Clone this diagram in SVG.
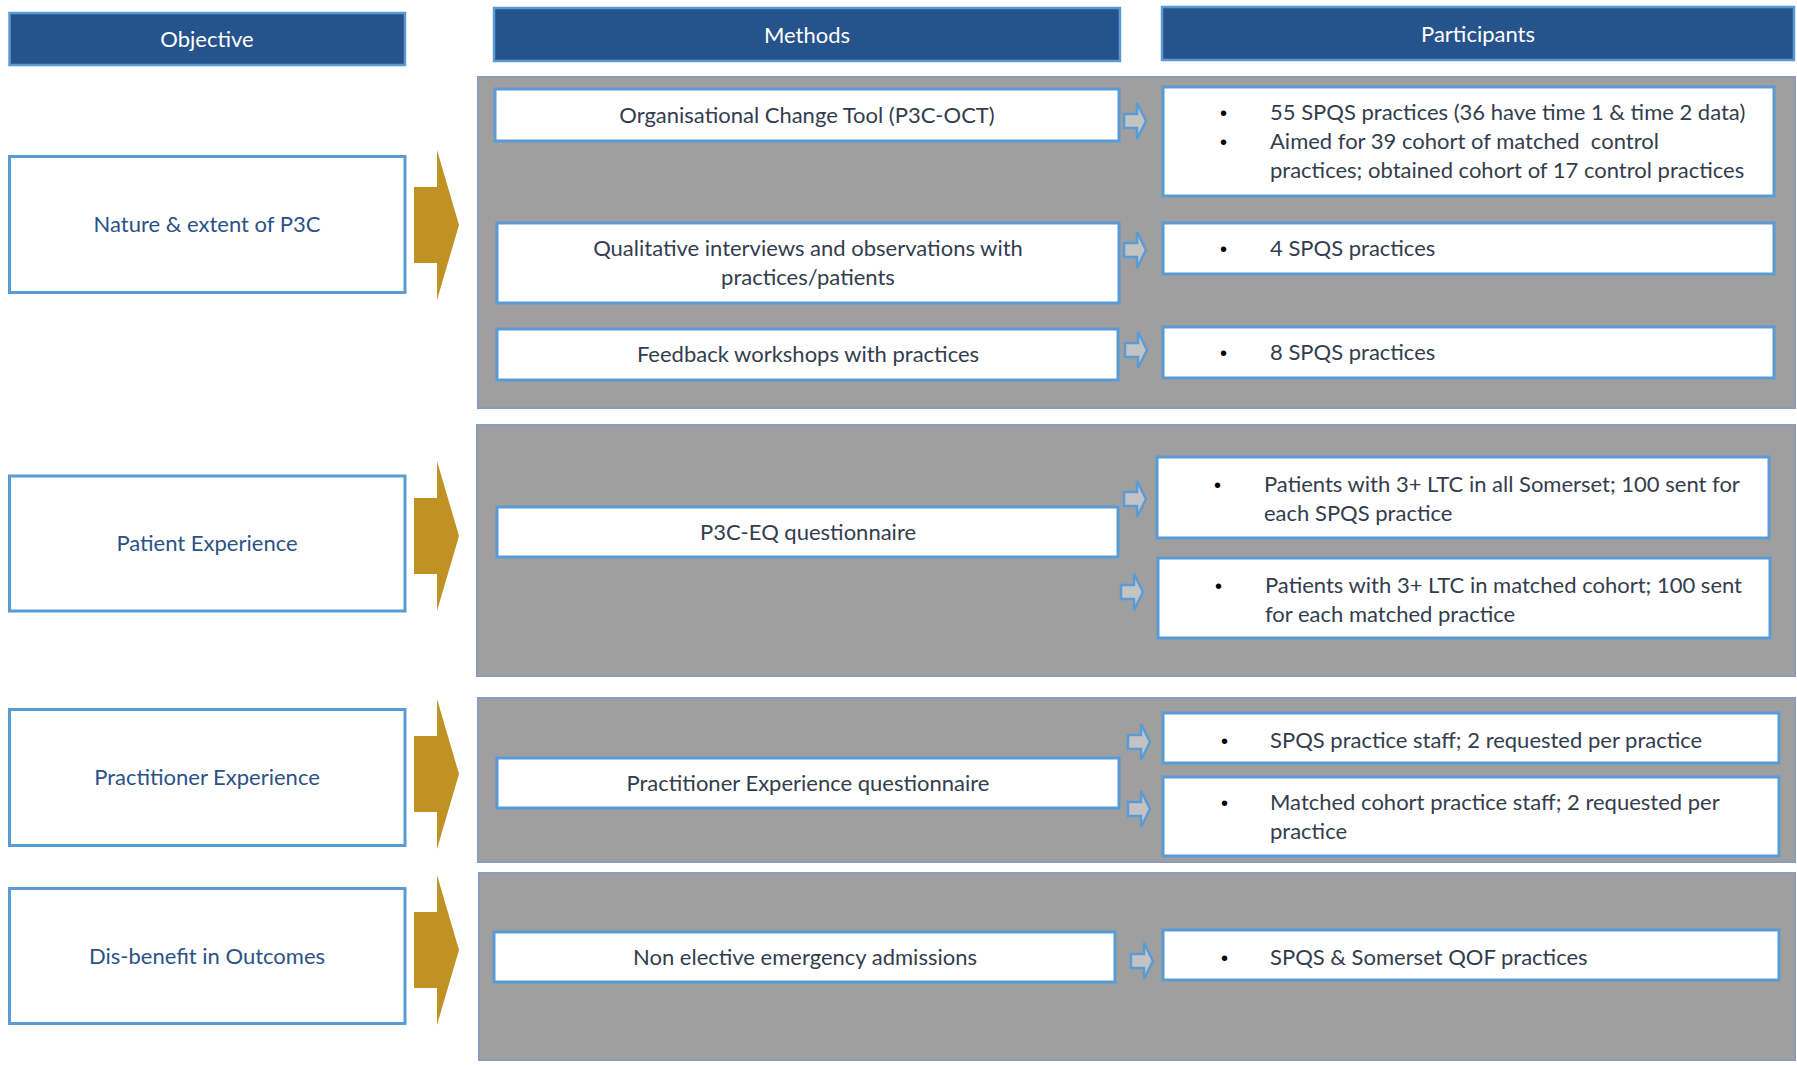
<svg xmlns="http://www.w3.org/2000/svg" xmlns:xlink="http://www.w3.org/1999/xlink" width="1797" height="1065" viewBox="0 0 1797 1065">
<style>
  .hdr{fill:#26538B;stroke:#5B9BD5;stroke-width:2.5}
  .hdrt{fill:#FFFFFF;font-family:Lato,"Liberation Sans",sans-serif;font-size:22px;text-anchor:middle}
  .obj{fill:#FFFFFF;stroke:#5B9BD5;stroke-width:3}
  .objt{fill:#2B5287;font-family:Lato,"Liberation Sans",sans-serif;font-size:22px;text-anchor:middle}
  .panel{fill:#9F9F9F;stroke:#8A9CB8;stroke-width:2}
  .box{fill:#FFFFFF;stroke:#5B9BD5;stroke-width:3}
  .bt{fill:#333D4D;font-family:Lato,"Liberation Sans",sans-serif;font-size:22px}
  .mid{text-anchor:middle}
  .bul{fill:#000000;font-family:"Liberation Sans",sans-serif;font-size:20px}
  .gold{fill:#BF9223}
  .sa{fill:#C3C3C3;stroke:#5B9BD5;stroke-width:2.5;stroke-linejoin:miter}
</style>
<defs>
  <path id="garrow" d="M414,-38 H437 V-75 L459,0 L437,75 V38 H414 Z"/>
  <path id="sarrow" d="M0,-7 H13 V-18 L22,0 L13,18 V7 H0 Z"/>
</defs>
<rect width="1797" height="1065" fill="#FFFFFF"/>

<g id="headers">
  <g id="hdr-objective"><rect class="hdr" x="9.5" y="13" width="395.5" height="52"/><text class="hdrt" x="207" y="47">Objective</text></g>
  <g id="hdr-methods"><rect class="hdr" x="494" y="8" width="626" height="53"/><text class="hdrt" x="807" y="43">Methods</text></g>
  <g id="hdr-participants"><rect class="hdr" x="1162" y="7" width="632" height="53"/><text class="hdrt" x="1478" y="42">Participants</text></g>
</g>

<g id="panels">
  <rect class="panel" x="478" y="77" width="1317" height="331"/>
  <rect class="panel" x="477" y="425" width="1318" height="251"/>
  <rect class="panel" x="478" y="698" width="1317" height="164"/>
  <rect class="panel" x="479" y="873" width="1316" height="187"/>
</g>

<g id="objectives">
  <g id="obj-nature"><rect class="obj" x="9.5" y="156.5" width="395.5" height="136"/><text class="objt" x="207" y="232">Nature &amp; extent of P3C</text></g>
  <g id="obj-patient"><rect class="obj" x="9.5" y="476" width="395.5" height="135"/><text class="objt" x="207" y="551">Patient Experience</text></g>
  <g id="obj-practitioner"><rect class="obj" x="9.5" y="709.5" width="395.5" height="136"/><text class="objt" x="207" y="785">Practitioner Experience</text></g>
  <g id="obj-disbenefit"><rect class="obj" x="9.5" y="888.5" width="395.5" height="135"/><text class="objt" x="207" y="964">Dis-benefit in Outcomes</text></g>
</g>

<g id="methods">
  <g id="m-oct"><rect class="box" x="495" y="89" width="624" height="52"/><text class="bt mid" x="807" y="123">Organisational Change Tool (P3C-OCT)</text></g>
  <g id="m-qual"><rect class="box" x="497" y="223" width="622" height="80"/><text class="bt mid" x="808" y="256">Qualitative interviews and observations with</text><text class="bt mid" x="808" y="285">practices/patients</text></g>
  <g id="m-feedback"><rect class="box" x="497" y="329" width="621" height="51"/><text class="bt mid" x="808" y="362">Feedback workshops with practices</text></g>
  <g id="m-p3ceq"><rect class="box" x="497" y="507" width="621" height="50"/><text class="bt mid" x="808" y="540">P3C-EQ questionnaire</text></g>
  <g id="m-peq"><rect class="box" x="497" y="758" width="622" height="50"/><text class="bt mid" x="808" y="791">Practitioner Experience questionnaire</text></g>
  <g id="m-nonelective"><rect class="box" x="494" y="932" width="621" height="50"/><text class="bt mid" x="805" y="965">Non elective emergency admissions</text></g>
</g>

<g id="participants">
  <g id="p-oct">
    <rect class="box" x="1163" y="87" width="611" height="109"/>
    <text class="bul" x="1220" y="120">•</text><text class="bt" x="1270" y="120">55 SPQS practices (36 have time 1 &amp; time 2 data)</text>
    <text class="bul" x="1220" y="149">•</text><text class="bt" x="1270" y="149" xml:space="preserve">Aimed for 39 cohort of matched  control</text>
    <text class="bt" x="1270" y="178">practices; obtained cohort of 17 control practices</text>
  </g>
  <g id="p-qual"><rect class="box" x="1163" y="223" width="611" height="51"/><text class="bul" x="1220" y="256">•</text><text class="bt" x="1270" y="256">4 SPQS practices</text></g>
  <g id="p-feedback"><rect class="box" x="1163" y="327" width="611" height="51"/><text class="bul" x="1220" y="360">•</text><text class="bt" x="1270" y="360">8 SPQS practices</text></g>
  <g id="p-eq1"><rect class="box" x="1157" y="457" width="612" height="81"/><text class="bul" x="1214" y="492">•</text><text class="bt" x="1264" y="492">Patients with 3+ LTC in all Somerset; 100 sent for</text><text class="bt" x="1264" y="521">each SPQS practice</text></g>
  <g id="p-eq2"><rect class="box" x="1158" y="558" width="612" height="80"/><text class="bul" x="1215" y="593">•</text><text class="bt" x="1265" y="593">Patients with 3+ LTC in matched cohort; 100 sent</text><text class="bt" x="1265" y="622">for each matched practice</text></g>
  <g id="p-staff1"><rect class="box" x="1163" y="713" width="616" height="50"/><text class="bul" x="1221" y="748">•</text><text class="bt" x="1270" y="748">SPQS practice staff; 2 requested per practice</text></g>
  <g id="p-staff2"><rect class="box" x="1163" y="777" width="616" height="79"/><text class="bul" x="1221" y="810">•</text><text class="bt" x="1270" y="810">Matched cohort practice staff; 2 requested per</text><text class="bt" x="1270" y="839">practice</text></g>
  <g id="p-qof"><rect class="box" x="1163" y="930" width="616" height="50"/><text class="bul" x="1221" y="965">•</text><text class="bt" x="1270" y="965">SPQS &amp; Somerset QOF practices</text></g>
</g>

<g id="connectors">
  <use href="#garrow" class="gold" transform="translate(0,225)"/>
  <use href="#garrow" class="gold" transform="translate(0,536)"/>
  <use href="#garrow" class="gold" transform="translate(0,774)"/>
  <use href="#garrow" class="gold" transform="translate(0,950)"/>
  <use href="#sarrow" class="sa" transform="translate(1124,121)"/>
  <use href="#sarrow" class="sa" transform="translate(1124,250)"/>
  <use href="#sarrow" class="sa" transform="translate(1125,350)"/>
  <use href="#sarrow" class="sa" transform="translate(1124,499)"/>
  <use href="#sarrow" class="sa" transform="translate(1121,592)"/>
  <use href="#sarrow" class="sa" transform="translate(1128,742)"/>
  <use href="#sarrow" class="sa" transform="translate(1128,809)"/>
  <use href="#sarrow" class="sa" transform="translate(1131,961)"/>
</g>
</svg>
